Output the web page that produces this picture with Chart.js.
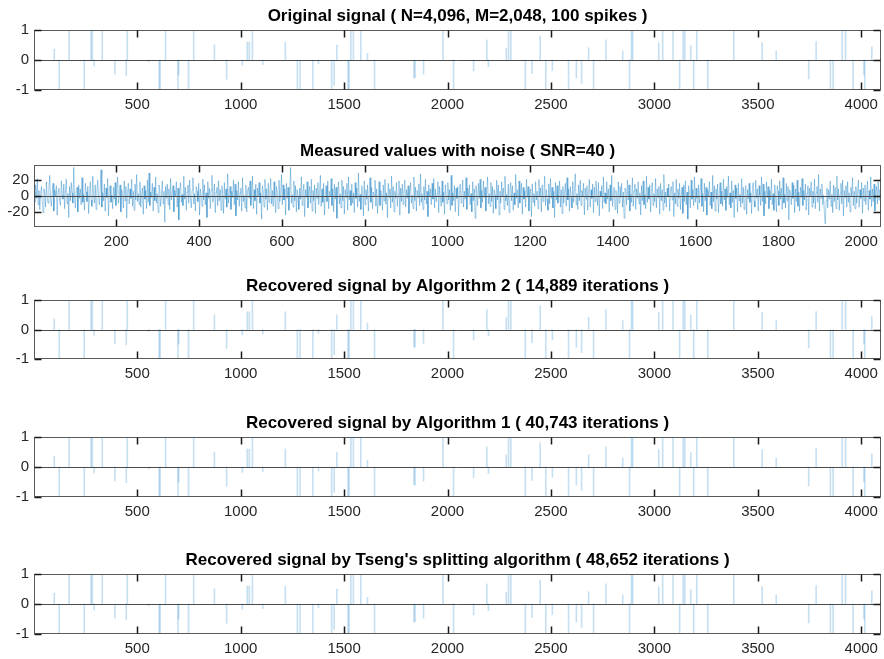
<!DOCTYPE html>
<html>
<head>
<meta charset="utf-8">
<script src="https://cdn.jsdelivr.net/npm/chart.js@4.4.0/dist/chart.umd.min.js"></script>
<style>
  body { margin: 0; background: #fff; width: 884px; height: 659px; overflow: hidden; position: relative; }
  .panel { position: absolute; left: 0; width: 884px; }
</style>
</head>
<body>
<div class="panel" id="p1"><canvas id="c1"></canvas></div>
<div class="panel" id="p2"><canvas id="c2"></canvas></div>
<div class="panel" id="p3"><canvas id="c3"></canvas></div>
<div class="panel" id="p4"><canvas id="c4"></canvas></div>
<div class="panel" id="p5"><canvas id="c5"></canvas></div>
<script>
// spike positions / amplitudes
const spikeX = [99, 123, 171, 244, 277, 283, 292, 331, 392, 447, 452, 555, 606, 611, 637, 697, 700, 748, 773, 873,
  932, 1008, 1032, 1042, 1057, 1107, 1216, 1274, 1287, 1349, 1376, 1440, 1452, 1465, 1519, 1524, 1533, 1545, 1581, 1613,
  1647, 1838, 1843, 1884, 1978, 2029, 2126, 2190, 2198, 2284, 2295, 2306, 2376, 2408, 2448, 2475, 2507, 2585, 2623, 2648,
  2682, 2706, 2766, 2847, 2880, 2889, 2895, 3021, 3040, 3090, 3122, 3139, 3147, 3176, 3190, 3205, 3258, 3384, 3521, 3589,
  3746, 3782, 3851, 3864, 3908, 3924, 3961, 4013, 4017, 4051];
const spikeY = [0.36, -1, 1, -1, 1, 1, -0.2, 1, -0.47, -0.52, 1, -0.07, -1, -1, 1, -1, -0.5, -1, 1, 0.5,
  -0.64, -0.18, 0.6, 0.6, 1, -0.15, 0.6, -1, -1, -1, -0.13, -1, -0.85, 0.5, -1, -1, 1, 1, 1, 0.22,
  -1, -0.6, -0.6, -0.47, 1, -1, -0.36, 0.67, -0.22, 0.4, 1, 1, -1, -0.45, 0.8, -1, -0.35, -1, -0.6, -0.78,
  0.41, -1, 0.67, 0.3, -1, 1, 1, 0.58, 1, 1, -1, 1, 1, 0.48, -1, 1, -1, 1, 0.58, 0.3,
  -0.63, 0.61, -1, -1, 1, 1, -1, -0.5, -1, 0.44];

// measured values with noise, every second sample (x = 1, 3, 5, ... 2047)
const noise = [
  5,-8,14,-3,22,-11,7,-17,2,12,-6,-21,9,3,-14,18,-2,-9,11,26,-5,-13,4,16,-19,8,-1,13,-24,6,10,-7,
  -12,19,1,-4,15,-16,8,21,-10,3,-27,12,-6,17,4,-9,36,-2,-15,7,11,-20,14,-3,9,-11,23,-8,2,-18,16,5,
  -7,12,-22,3,18,-5,-13,25,0,-9,14,-17,6,20,-3,-11,8,33,-14,4,-6,15,-19,10,-2,22,-25,7,13,-8,1,-16,
  11,-4,17,-12,5,24,-9,-1,14,-20,8,2,-15,19,-6,12,-28,4,16,-10,9,-3,21,-13,6,-18,15,-5,27,-7,3,-11,
  18,-14,2,10,-23,13,-4,7,-16,20,-8,29,-12,5,-2,16,-19,11,-6,24,-9,3,-21,14,8,-13,1,19,-10,6,-33,12,
  -3,15,-11,9,-17,22,-5,4,13,-20,7,-1,18,-14,10,-30,6,17,-8,2,-12,25,-4,11,-18,5,14,-9,20,-2,-15,8,
  23,-10,3,-19,12,6,-7,16,-24,9,1,-13,21,-5,14,-11,4,-27,18,-3,10,-16,7,26,-8,-1,15,-21,5,11,-12,19,
  -6,8,-18,13,2,-22,17,-4,9,-14,28,-9,3,12,-17,6,-2,20,-11,15,-25,7,-5,18,-13,4,10,-19,23,-7,1,-15,
  14,-20,6,11,-3,19,-12,2,25,-16,8,-6,15,-23,10,-1,17,-9,4,-29,13,5,-14,21,-4,9,-18,16,-8,3,22,-10,
  7,-13,18,-2,-21,12,4,-16,20,-7,1,27,-11,14,-5,9,-24,16,-3,11,-18,6,36,-9,2,-14,19,-6,13,-20,8,-1,
  -17,10,-4,24,-12,5,15,-26,8,-2,18,-15,3,12,-9,21,-19,7,-6,14,-22,10,-3,17,-11,4,26,-13,9,-8,16,-24,
  2,13,-7,19,-16,6,-1,22,-12,9,-20,15,-4,11,-28,5,18,-10,3,-15,20,-6,12,-23,8,-2,16,-18,24,-5,7,-12,
  15,-9,4,-21,17,-3,10,-14,29,-7,2,-17,13,6,-25,19,-11,8,-4,14,-19,3,23,-8,11,-16,5,-1,20,-13,9,-22,
  -5,18,-12,7,1,-18,14,-6,21,-10,4,-27,16,-2,9,-15,25,-8,12,-20,6,-3,17,-13,2,19,-24,10,-7,15,-11,4,
  20,-14,8,-3,13,-22,5,17,-9,1,-16,24,-6,11,-19,7,-2,15,-12,28,-8,3,-17,12,-5,21,-10,6,-26,14,-1,9,
  -11,16,-4,22,-15,9,-7,3,18,-21,12,-2,-13,19,-8,5,-23,14,1,-10,17,-5,8,-18,26,-12,4,-6,13,-20,10,-3,
  12,-25,7,15,-9,2,20,-14,6,-4,23,-17,10,-1,14,-11,3,-20,18,-6,9,-28,13,4,-12,16,-3,21,-15,7,-8,19,
  -2,11,-19,5,24,-10,3,-13,17,-7,12,-22,8,1,-16,20,-5,14,-24,6,-9,18,-1,10,-17,25,-6,2,-12,15,-21,9,
  17,-6,13,-18,4,-11,27,-3,8,-15,19,-9,2,16,-23,11,-4,7,-14,21,-2,12,-19,5,9,-26,15,-8,3,-13,18,-5,
  6,-16,21,-1,10,-20,14,-7,3,25,-12,8,-4,-18,15,-10,22,-3,11,-15,6,-27,17,-5,13,-9,1,19,-14,8,-22,12,
  -9,4,16,-13,23,-5,9,-19,12,-2,-15,18,-8,6,28,-11,3,-17,14,-6,20,-12,7,-1,16,-24,10,-4,13,-18,5,21,
  -14,8,-3,15,-21,11,-7,19,2,-12,17,-25,6,-1,13,-16,24,-8,4,-10,18,-4,9,-20,14,-6,26,-13,1,11,-17,7,
  3,-22,18,-9,12,-2,16,-14,5,-28,10,7,-11,20,-5,14,-19,2,-8,23,-13,6,15,-17,9,-3,18,-10,4,-24,13,-6,
  19,-11,2,-16,25,-8,11,-4,14,-20,6,17,-12,3,-7,22,-15,9,-2,12,-23,16,-6,8,-18,27,-9,5,-14,10,-1,15,
  -19,7,12,-5,18,-26,4,-10,21,-13,9,-3,16,-17,1,11,-22,14,-7,19,-11,5,-29,13,2,-15,20,-4,8,-12,24,-8,
  10,-3,-17,14,-9,6,22,-13,3,-20,16,-6,11,-24,8,-1,18,-12,5,-16,26,-7,13,-19,9,-4,15,-21,2,17,-10,6,
  -13,21,-5,9,-18,12,-2,25,-11,4,-15,19,-8,7,-27,14,-3,10,-20,16,-6,2,-14,22,-9,11,-17,5,13,-23,8,-4,
  16,-8,4,-22,11,17,-6,-14,20,-3,9,-19,13,1,-12,24,-7,15,-25,6,-10,18,-2,12,-16,7,-5,21,-11,3,-18,14,
  -1,-20,13,6,-12,19,-4,10,-17,23,-9,2,-15,16,-6,12,-30,8,3,-11,17,-3,14,-21,9,-7,20,-13,5,-19,11,-2,
  22,-12,7,-5,15,-18,3,13,-24,10,-1,18,-14,6,-9,21,-16,4,12,-8,27,-19,9,-3,15,-11,1,-22,-35,-6,10,-15,
  8,-4,19,-13,2,-21,14,-7,11,-16,25,-5,9,-18,3,16,-10,20,-25,7,-2,13,-14,18,-8,4,-20,11,-1,23,-12,6,
  -16,12,-9,5,20,-14,8,-3,17,-22,10,-6,14,-11,2,19,-18,7,-4,24,-13,9,-7,15,-19,3,12,-10,18,-5,8,-2
];

const spikeTicksX = [500, 1000, 1500, 2000, 2500, 3000, 3500, 4000];
const noiseTicksX = [200, 400, 600, 800, 1000, 1200, 1400, 1600, 1800, 2000];
const spikeTicksY = [-1, 0, 1];
const noiseTicksY = [-20, 0, 20];

const titles = [
  'Original signal ( N=4,096, M=2,048, 100 spikes )',
  'Measured values with noise ( SNR=40 )',
  'Recovered signal by Algorithm 2 ( 14,889 iterations )',
  'Recovered signal by Algorithm 1 ( 40,743 iterations )',
  "Recovered signal by Tseng's splitting algorithm ( 48,652 iterations )"
];

const FONT = "'Liberation Sans', Arial, Helvetica, sans-serif";
const BLUE = '0,114,189';

// box with inward ticks on all four sides + zero line, MATLAB style
const boxPlugin = {
  id: 'matlabBox',
  afterDatasetsDraw(chart) {
    const { ctx, chartArea: a, scales: { x, y } } = chart;
    const L = Math.round(a.left) + 0.5, R = Math.round(a.right) - 0.5;
    const T = Math.round(a.top) + 0.5, B = Math.round(a.bottom) - 0.5;
    ctx.save();
    ctx.lineWidth = 1;
    // zero line
    const z = Math.round(y.getPixelForValue(0)) + 0.5;
    ctx.strokeStyle = '#4a4a4a';
    ctx.beginPath(); ctx.moveTo(L, z); ctx.lineTo(R, z); ctx.stroke();
    // box
    ctx.strokeStyle = '#5a5a5a';
    ctx.strokeRect(L, T, R - L, B - T);
    // ticks
    ctx.strokeStyle = '#1a1a1a';
    ctx.lineWidth = 1.5;
    ctx.beginPath();
    x.ticks.forEach(t => {
      const px = Math.round(x.getPixelForValue(t.value)) + 0.5;
      ctx.moveTo(px, T); ctx.lineTo(px, T + 7);
      ctx.moveTo(px, B); ctx.lineTo(px, B - 7);
    });
    y.ticks.forEach(t => {
      const py = Math.round(y.getPixelForValue(t.value)) + 0.5;
      ctx.moveTo(L, py); ctx.lineTo(L + 7, py);
      ctx.moveTo(R, py); ctx.lineTo(R - 7, py);
    });
    ctx.stroke();
    ctx.restore();
  }
};

function makePanel(n, plotTop, plotH, dataset, xMax, xTicks, yLim, yTicks) {
  const div = document.getElementById('p' + n);
  div.style.top = (plotTop - 30) + 'px';
  div.style.height = (plotH + 30 + 26) + 'px';
  new Chart(document.getElementById('c' + n), {
    type: dataset.type,
    data: { datasets: [dataset] },
    plugins: [boxPlugin],
    options: {
      responsive: true,
      maintainAspectRatio: false,
      animation: false,
      layout: { padding: { top: 0, left: 0, right: 2, bottom: 0 } },
      plugins: {
        legend: { display: false },
        tooltip: { enabled: false },
        title: {
          display: true,
          text: titles[n - 1],
          fullSize: false,
          color: '#000',
          font: { family: FONT, size: 17, weight: 'bold', lineHeight: 1.2 },
          padding: { top: 5.8, bottom: 3.8 }
        }
      },
      scales: {
        x: {
          type: 'linear',
          offset: false,
          min: 1,
          max: xMax,
          grid: { display: false, drawTicks: false, offset: false },
          border: { display: false },
          afterBuildTicks: s => { s.ticks = xTicks.map(v => ({ value: v })); },
          afterFit: s => { s.height = 26; },
          ticks: { color: '#262626', padding: 6, font: { family: FONT, size: 15 }, callback: v => String(v), maxRotation: 0 }
        },
        y: {
          min: -yLim,
          max: yLim,
          grid: { display: false, drawTicks: false },
          border: { display: false },
          afterBuildTicks: s => { s.ticks = yTicks.map(v => ({ value: v })); },
          afterFit: s => { s.width = 34; },
          ticks: { color: '#262626', padding: 5, font: { family: FONT, size: 15 }, callback: v => String(v) }
        }
      }
    }
  });
}

function spikeSet() {
  return {
    type: 'bar',
    data: spikeX.map((x, i) => ({ x: x, y: spikeY[i] })),
    backgroundColor: 'rgba(' + BLUE + ',0.22)',
    borderWidth: 0,
    barThickness: 1,
    grouped: false
  };
}

const noiseSet = {
  type: 'line',
  data: noise.map((v, i) => ({ x: 2 * i + 1, y: v })),
  borderColor: 'rgba(' + BLUE + ',0.45)',
  borderWidth: 0.8,
  pointRadius: 0,
  tension: 0
};

makePanel(1, 30, 60, spikeSet(), 4096, spikeTicksX, 1, spikeTicksY);
makePanel(2, 165, 62, noiseSet, 2048, noiseTicksX, 39, noiseTicksY);
makePanel(3, 300, 59, spikeSet(), 4096, spikeTicksX, 1, spikeTicksY);
makePanel(4, 437, 60, spikeSet(), 4096, spikeTicksX, 1, spikeTicksY);
makePanel(5, 574, 60, spikeSet(), 4096, spikeTicksX, 1, spikeTicksY);
</script>
</body>
</html>
